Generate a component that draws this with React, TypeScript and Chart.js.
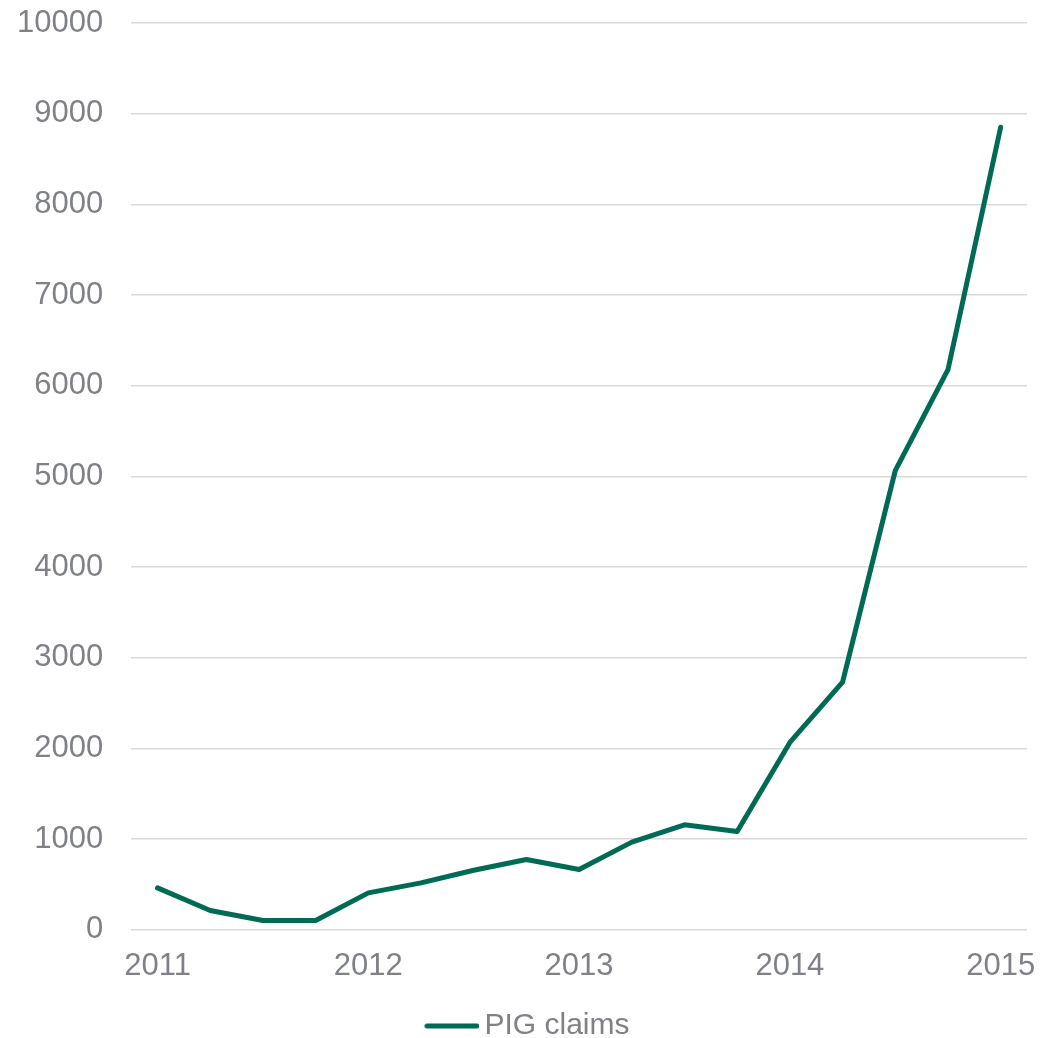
import React, { useEffect, useRef } from "react";
import { Chart, registerables } from "chart.js";

Chart.register(...registerables);

const quarters = [
  "2011 Q1", "2011 Q2", "2011 Q3", "2011 Q4",
  "2012 Q1", "2012 Q2", "2012 Q3", "2012 Q4",
  "2013 Q1", "2013 Q2", "2013 Q3", "2013 Q4",
  "2014 Q1", "2014 Q2", "2014 Q3", "2014 Q4",
  "2015 Q1",
];
const pigClaims = [
  462, 212, 102, 102,
  407, 517, 657, 776,
  665, 967, 1158, 1085,
  2066, 2731, 5063, 6177,
  8850,
];
const yTicks = { min: 0, max: 10000, step: 1000 };
const seriesName = "PIG claims";

const FONT = "'Liberation Sans', Arial, sans-serif";
const TEXT = "#7f8088";
const GREEN = "#006b54";
const CLEAR = "rgba(0,0,0,0)";

const legendShift = {
  id: "legendShift",
  afterLayout(chart: any) {
    const lg = chart.legend;
    if (lg) {
      lg.top += 13;
      lg.bottom += 13;
    }
  },
};

function makeLegendLine(): HTMLCanvasElement {
  const c = document.createElement("canvas");
  c.width = 75;
  c.height = 10;
  const ctx = c.getContext("2d");
  if (ctx) {
    ctx.strokeStyle = GREEN;
    ctx.lineWidth = 5;
    ctx.lineCap = "round";
    ctx.beginPath();
    ctx.moveTo(22.5, 5);
    ctx.lineTo(72.5, 5);
    ctx.stroke();
  }
  return c;
}

export default function App() {
  const ref = useRef<HTMLCanvasElement | null>(null);
  useEffect(() => {
    if (!ref.current) return;
    const legendLine = makeLegendLine();
    const chart = new Chart(ref.current, {
      type: "line",
      data: {
        labels: quarters,
        datasets: [
          {
            label: seriesName,
            data: pigClaims,
            borderColor: GREEN,
            backgroundColor: GREEN,
            borderWidth: 5,
            pointRadius: 0,
            pointHoverRadius: 0,
            tension: 0,
            borderCapStyle: "round",
            borderJoinStyle: "round",
            fill: false,
          },
        ],
      },
      options: {
        animation: false,
        responsive: false,
        maintainAspectRatio: false,
        layout: { padding: { left: 17, right: 26, top: 23, bottom: 0 } },
        scales: {
          x: {
            offset: true,
            grid: {
              display: true,
              drawOnChartArea: false,
              drawTicks: true,
              tickLength: 18,
              color: CLEAR,
              tickColor: CLEAR,
            },
            border: { display: false },
            ticks: {
              autoSkip: false,
              maxRotation: 0,
              minRotation: 0,
              padding: 0,
              color: TEXT,
              font: { family: FONT, size: 31 },
              callback: (_v: any, i: number) =>
                quarters[i].endsWith("Q1") ? quarters[i].slice(0, 4) : "",
            },
          },
          y: {
            min: yTicks.min,
            max: yTicks.max,
            grid: {
              color: "#d9d9d9",
              lineWidth: 1.5,
              drawTicks: true,
              tickLength: 28,
              tickColor: CLEAR,
            },
            border: { display: false },
            ticks: {
              stepSize: yTicks.step,
              padding: 0,
              color: TEXT,
              font: { family: FONT, size: 31 },
              callback: (v: any) => String(v),
            },
          },
        },
        plugins: {
          legend: {
            position: "bottom",
            labels: {
              color: TEXT,
              font: { family: FONT, size: 30 },
              usePointStyle: true,
              pointStyle: legendLine as any,
              pointStyleWidth: 55,
              padding: 13,
            },
          },
          tooltip: { enabled: false },
        },
      },
      plugins: [legendShift],
    });
    return () => chart.destroy();
  }, []);
  return (
    <div style={{ position: "fixed", left: 0, top: 0, width: 1053, height: 1038, background: "#fff" }}>
      <canvas ref={ref} width={1053} height={1038} style={{ display: "block" }} />
    </div>
  );
}
